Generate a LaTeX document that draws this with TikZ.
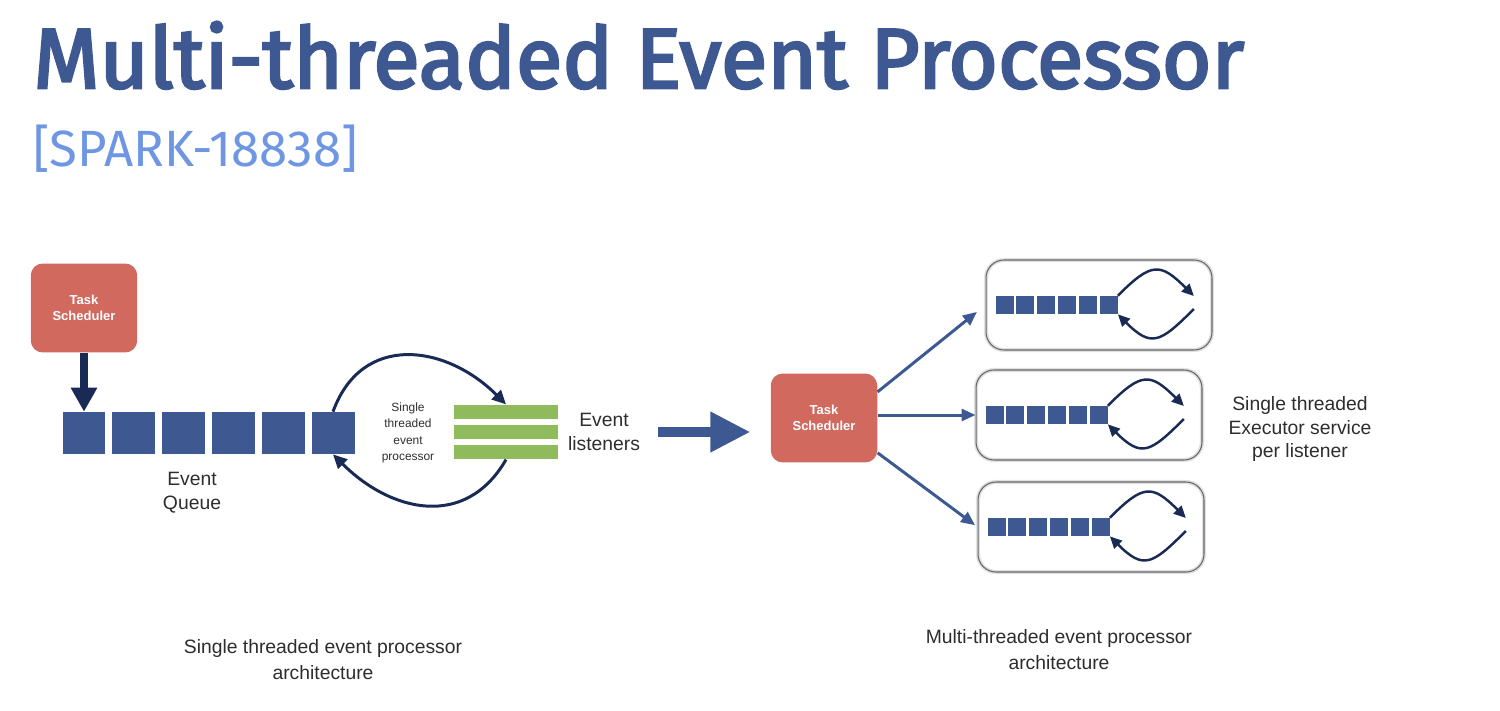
\documentclass[tikz,border=0pt]{standalone}
\usepackage{fontspec}
\setmainfont{Liberation Sans}
\newfontfamily\titlefont{Fira Sans}[FakeBold=3]
\newfontfamily\subfont{Fira Sans}
\usepackage{tikz}
\usetikzlibrary{positioning, arrows.meta, calc}
\usepackage{xcolor}

\definecolor{slideblue}{RGB}{62,89,145}
\definecolor{darknavy}{RGB}{25,42,85}
\definecolor{taskred}{RGB}{209,105,95}
\definecolor{listgreen}{RGB}{143,187,93}
\definecolor{jiralink}{RGB}{110,150,226}
\definecolor{captiongray}{RGB}{45,45,45}

\tikzset{
  sched/.style={rectangle, rounded corners=0.24cm, fill=taskred,
    minimum width=2.13cm, minimum height=1.78cm, text=white,
    font=\fontsize{7.4}{9}\selectfont\bfseries, align=center},
  qbox/.style={fill=slideblue, minimum width=0.86cm, minimum height=0.84cm, inner sep=0pt},
  sbox/.style={fill=slideblue, minimum width=0.36cm, minimum height=0.36cm, inner sep=0pt},
  lbar/.style={fill=listgreen, minimum width=2.1cm, minimum height=0.29cm, inner sep=0pt},
  execframe/.style={draw=black!60, line width=0.6pt, rounded corners=0.36cm,
    minimum width=4.52cm, minimum height=1.8cm,
    preaction={draw=black!12, line width=2.4pt}},
  txt/.style={text=captiongray, font=\fontsize{11}{13.6}\selectfont, align=center},
  cycarrow/.style={darknavy, line width=1.7pt, -{Triangle[length=0.28cm, width=0.26cm]}},
  smallcyc/.style={darknavy, line width=1.4pt, -{Triangle[length=0.24cm, width=0.22cm]}},
  fanarrow/.style={slideblue, line width=1.7pt, -{Triangle[length=0.28cm, width=0.24cm]}}
}

\begin{document}
\begin{tikzpicture}[x=0.02cm, y=-0.02cm]
\useasboundingbox (0,0) rectangle (1500,710);

% heading
\node[anchor=base west, inner sep=0pt, text=slideblue,
  font=\titlefont\fontsize{48.4}{50}\selectfont] (title) at (33,88)
  {Multi-threaded Event Processor};
\node[anchor=base west, inner sep=0pt, text=jiralink,
  font=\subfont\fontsize{29}{31}\selectfont] (jira) at (33,166) {[SPARK-18838]};

% single threaded side
\node[sched] (ts1) at (84,308) {Task\\Scheduler};
\foreach \i in {1,...,6} \node[qbox] (q\i) at ({84+49.8*(\i-1)}, 433) {};
\draw[darknavy, line width=4pt, -{Triangle[length=0.48cm, width=0.5cm]}] (ts1) -- (q1);
\node[txt] (evq) at (192,493) {Event\\Queue};

\foreach \j/\yy in {1/412, 2/432, 3/452} \node[lbar] (g\j) at (506,\yy) {};
\node[text=captiongray, font=\fontsize{6.8}{9.3}\selectfont, align=center] (proc) at (408,433)
  {Single\\threaded\\event\\processor};
\draw[cycarrow] (q6.north) to[out=70, in=135, looseness=1.25] (g1.north);
\draw[cycarrow] (g3.south) to[out=-120, in=-45, looseness=1.2] (q6.south);
\node[txt] (evl) at (604,432) {Event\\listeners};

% multi threaded side
\node[sched] (ts2) at (824,418) {Task\\Scheduler};
\draw[slideblue, line width=5.6pt, -{Triangle[length=0.8cm, width=0.76cm]},
  shorten <=0.24cm, shorten >=0.4cm] (evl.east) -- (evl.east -| ts2.west);

\def\execbox#1#2#3{%
  \node[execframe] (#1) at (#2,#3) {};
  \foreach \k in {1,...,6}
    \node[sbox] (#1s\k) at ($(#1.west)+({19+20.8*(\k-1)},0)$) {};
  \coordinate (#1up) at ($(#1s6.east)+(76,-9)$);
  \coordinate (#1dn) at ($(#1s6.east)+(76,4)$);
  \draw[smallcyc] (#1s6.north east) to[out=45, in=135, looseness=1.6] (#1up);
  \draw[smallcyc] (#1dn) to[out=-135, in=-45, looseness=1.6] (#1s6.south east);
}

\execbox{ex1}{1099}{305}
\execbox{ex2}{1089}{415}
\execbox{ex3}{1091}{527}

\draw[fanarrow, shorten >=0.22cm] (ts2.26) -- (ex1.west);
\draw[fanarrow] (ts2.east |- ex2.west) -- (ex2.west);
\draw[fanarrow, shorten >=0.06cm] (ts2.-33) -- (ex3.west);

\node[txt] (stes) at (1300,429) {Single threaded\\Executor service\\per listener};

% captions
\node[txt, font=\fontsize{11}{14.8}\selectfont] (cap1) at (323,660)
  {Single threaded event processor\\architecture};
\node[txt, font=\fontsize{11}{14.8}\selectfont] (cap2) at (1059,650)
  {Multi-threaded event processor\\architecture};
\end{tikzpicture}
\end{document}
